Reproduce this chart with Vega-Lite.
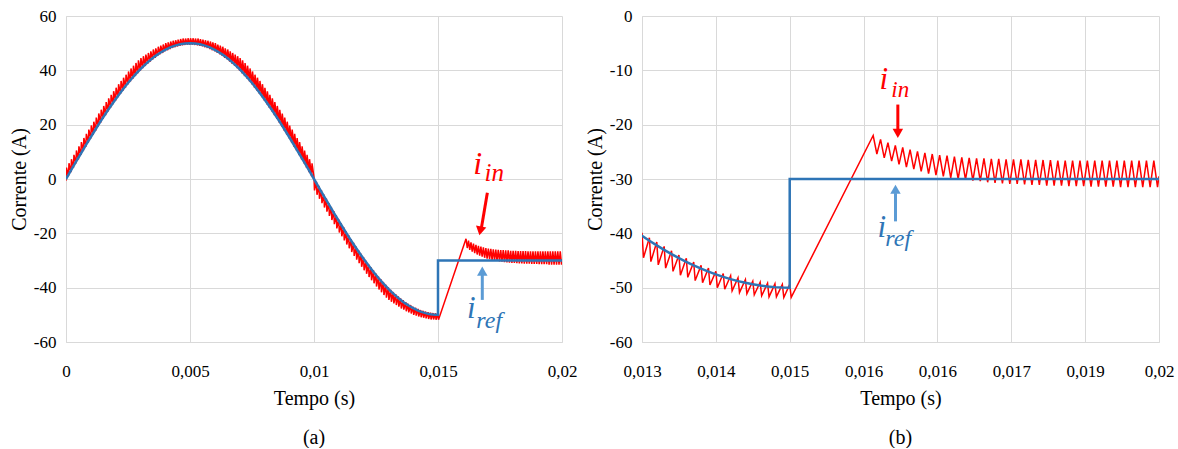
{
"$schema":"https://vega.github.io/schema/vega-lite/v6.json",
"padding":{"left":9,"top":7,"right":10,"bottom":0},
"config":{
 "view":{"stroke":null},
 "axis":{"domainColor":"#d9d9d9","gridColor":"#d9d9d9","gridWidth":1,"domainWidth":1,"ticks":false,"labelFont":"Liberation Serif","labelFontSize":17,"labelColor":"#000000","titleFont":"Liberation Serif","titleFontSize":20,"titleFontWeight":"normal","titleColor":"#000000","labelFlush":false,"labelOverlap":false},
 "axisX":{"labelPadding":21,"titlePadding":9},
 "axisY":{"labelPadding":10,"titlePadding":4},
 "title":{"font":"Liberation Serif","fontSize":20,"fontWeight":"normal","color":"#000000","orient":"bottom","anchor":"middle","offset":20}
},
"datasets":{
"iref":[{"t":0,"v":0},{"t":0.0002,"v":3.14},{"t":0.0004,"v":6.27},{"t":0.0006,"v":9.37},{"t":0.0008,"v":12.43},{"t":0.001,"v":15.45},{"t":0.0012,"v":18.41},{"t":0.0014,"v":21.29},{"t":0.0016,"v":24.09},{"t":0.0018,"v":26.79},{"t":0.002,"v":29.39},{"t":0.0022,"v":31.87},{"t":0.0024,"v":34.23},{"t":0.0026,"v":36.45},{"t":0.0028,"v":38.53},{"t":0.003,"v":40.45},{"t":0.0032,"v":42.22},{"t":0.0034,"v":43.82},{"t":0.0036,"v":45.24},{"t":0.0038,"v":46.49},{"t":0.004,"v":47.55},{"t":0.0042,"v":48.43},{"t":0.0044,"v":49.11},{"t":0.0046,"v":49.61},{"t":0.0048,"v":49.9},{"t":0.005,"v":50},{"t":0.0052,"v":49.9},{"t":0.0054,"v":49.61},{"t":0.0056,"v":49.11},{"t":0.0058,"v":48.43},{"t":0.006,"v":47.55},{"t":0.0062,"v":46.49},{"t":0.0064,"v":45.24},{"t":0.0066,"v":43.82},{"t":0.0068,"v":42.22},{"t":0.007,"v":40.45},{"t":0.0072,"v":38.53},{"t":0.0074,"v":36.45},{"t":0.0076,"v":34.23},{"t":0.0078,"v":31.87},{"t":0.008,"v":29.39},{"t":0.0082,"v":26.79},{"t":0.0084,"v":24.09},{"t":0.0086,"v":21.29},{"t":0.0088,"v":18.41},{"t":0.009,"v":15.45},{"t":0.0092,"v":12.43},{"t":0.0094,"v":9.37},{"t":0.0096,"v":6.27},{"t":0.0098,"v":3.14},{"t":0.01,"v":0},{"t":0.0102,"v":-3.14},{"t":0.0104,"v":-6.27},{"t":0.0106,"v":-9.37},{"t":0.0108,"v":-12.43},{"t":0.011,"v":-15.45},{"t":0.0112,"v":-18.41},{"t":0.0114,"v":-21.29},{"t":0.0116,"v":-24.09},{"t":0.0118,"v":-26.79},{"t":0.012,"v":-29.39},{"t":0.0122,"v":-31.87},{"t":0.0124,"v":-34.23},{"t":0.0126,"v":-36.45},{"t":0.0128,"v":-38.53},{"t":0.013,"v":-40.45},{"t":0.0131,"v":-41.35},{"t":0.0132,"v":-42.22},{"t":0.0133,"v":-43.04},{"t":0.0134,"v":-43.82},{"t":0.0135,"v":-44.55},{"t":0.0136,"v":-45.24},{"t":0.0137,"v":-45.89},{"t":0.0138,"v":-46.49},{"t":0.0139,"v":-47.04},{"t":0.014,"v":-47.55},{"t":0.0141,"v":-48.01},{"t":0.0142,"v":-48.43},{"t":0.0143,"v":-48.8},{"t":0.0144,"v":-49.11},{"t":0.0145,"v":-49.38},{"t":0.0146,"v":-49.61},{"t":0.0147,"v":-49.78},{"t":0.0148,"v":-49.9},{"t":0.0149,"v":-49.98},{"t":0.015,"v":-50},{"t":0.015,"v":-30},{"t":0.02,"v":-30}],
"iin":[{"t":0,"v":-0.6},{"t":0.00002,"v":4.2},{"t":0.0001,"v":1.0},{"t":0.00012,"v":5.8},{"t":0.0002,"v":2.5},{"t":0.00022,"v":7.3},{"t":0.0003,"v":4.1},{"t":0.00032,"v":8.9},{"t":0.0004,"v":5.7},{"t":0.00042,"v":10.5},{"t":0.0005,"v":7.2},{"t":0.00052,"v":12.0},{"t":0.0006,"v":8.8},{"t":0.00062,"v":13.6},{"t":0.0007,"v":10.3},{"t":0.00072,"v":15.1},{"t":0.0008,"v":11.8},{"t":0.00082,"v":16.6},{"t":0.0009,"v":13.4},{"t":0.00092,"v":18.2},{"t":0.001,"v":14.9},{"t":0.00102,"v":19.7},{"t":0.0011,"v":16.3},{"t":0.00112,"v":21.1},{"t":0.0012,"v":17.8},{"t":0.00122,"v":22.6},{"t":0.0013,"v":19.3},{"t":0.00132,"v":24.1},{"t":0.0014,"v":20.7},{"t":0.00142,"v":25.5},{"t":0.0015,"v":22.1},{"t":0.00152,"v":26.9},{"t":0.0016,"v":23.5},{"t":0.00162,"v":28.3},{"t":0.0017,"v":24.9},{"t":0.00172,"v":29.7},{"t":0.0018,"v":26.2},{"t":0.00182,"v":31.0},{"t":0.0019,"v":27.5},{"t":0.00192,"v":32.3},{"t":0.002,"v":28.8},{"t":0.00202,"v":33.6},{"t":0.0021,"v":30.1},{"t":0.00212,"v":34.9},{"t":0.0022,"v":31.3},{"t":0.00222,"v":36.1},{"t":0.0023,"v":32.5},{"t":0.00232,"v":37.3},{"t":0.0024,"v":33.6},{"t":0.00242,"v":38.4},{"t":0.0025,"v":34.8},{"t":0.00252,"v":39.6},{"t":0.0026,"v":35.9},{"t":0.00262,"v":40.7},{"t":0.0027,"v":36.9},{"t":0.00272,"v":41.7},{"t":0.0028,"v":37.9},{"t":0.00282,"v":42.7},{"t":0.0029,"v":38.9},{"t":0.00292,"v":43.7},{"t":0.003,"v":39.9},{"t":0.00302,"v":44.5},{"t":0.0031,"v":40.8},{"t":0.00312,"v":45.2},{"t":0.0032,"v":41.6},{"t":0.00322,"v":45.8},{"t":0.0033,"v":42.4},{"t":0.00332,"v":46.4},{"t":0.0034,"v":43.2},{"t":0.00342,"v":47.0},{"t":0.0035,"v":44.0},{"t":0.00352,"v":47.7},{"t":0.0036,"v":44.6},{"t":0.00362,"v":48.1},{"t":0.0037,"v":45.3},{"t":0.00372,"v":48.7},{"t":0.0038,"v":45.9},{"t":0.00382,"v":49.1},{"t":0.0039,"v":46.4},{"t":0.00392,"v":49.5},{"t":0.004,"v":47.0},{"t":0.00402,"v":50.0},{"t":0.0041,"v":47.4},{"t":0.00412,"v":50.3},{"t":0.0042,"v":47.8},{"t":0.00422,"v":50.6},{"t":0.0043,"v":48.2},{"t":0.00432,"v":50.9},{"t":0.0044,"v":48.5},{"t":0.00442,"v":51.1},{"t":0.0045,"v":48.8},{"t":0.00452,"v":51.3},{"t":0.0046,"v":49.0},{"t":0.00462,"v":51.5},{"t":0.0047,"v":49.2},{"t":0.00472,"v":51.7},{"t":0.0048,"v":49.3},{"t":0.00482,"v":51.7},{"t":0.0049,"v":49.4},{"t":0.00492,"v":51.8},{"t":0.005,"v":49.4},{"t":0.00502,"v":51.8},{"t":0.0051,"v":49.4},{"t":0.00512,"v":51.8},{"t":0.0052,"v":49.3},{"t":0.00522,"v":51.7},{"t":0.0053,"v":49.2},{"t":0.00532,"v":51.7},{"t":0.0054,"v":49.0},{"t":0.00542,"v":51.5},{"t":0.0055,"v":48.8},{"t":0.00552,"v":51.3},{"t":0.0056,"v":48.5},{"t":0.00562,"v":51.1},{"t":0.0057,"v":48.2},{"t":0.00572,"v":50.9},{"t":0.0058,"v":47.8},{"t":0.00582,"v":50.6},{"t":0.0059,"v":47.4},{"t":0.00592,"v":50.3},{"t":0.006,"v":47.0},{"t":0.00602,"v":50.0},{"t":0.0061,"v":46.4},{"t":0.00612,"v":49.5},{"t":0.0062,"v":45.9},{"t":0.00622,"v":49.1},{"t":0.0063,"v":45.3},{"t":0.00632,"v":48.7},{"t":0.0064,"v":44.6},{"t":0.00642,"v":48.1},{"t":0.0065,"v":44.0},{"t":0.00652,"v":47.7},{"t":0.0066,"v":43.2},{"t":0.00662,"v":47.0},{"t":0.0067,"v":42.4},{"t":0.00672,"v":46.4},{"t":0.0068,"v":41.6},{"t":0.00682,"v":45.8},{"t":0.0069,"v":40.8},{"t":0.00692,"v":45.2},{"t":0.007,"v":39.9},{"t":0.00702,"v":44.5},{"t":0.0071,"v":38.9},{"t":0.00712,"v":43.7},{"t":0.0072,"v":37.9},{"t":0.00722,"v":42.7},{"t":0.0073,"v":36.9},{"t":0.00732,"v":41.7},{"t":0.0074,"v":35.9},{"t":0.00742,"v":40.7},{"t":0.0075,"v":34.8},{"t":0.00752,"v":39.6},{"t":0.0076,"v":33.6},{"t":0.00762,"v":38.4},{"t":0.0077,"v":32.5},{"t":0.00772,"v":37.3},{"t":0.0078,"v":31.3},{"t":0.00782,"v":36.1},{"t":0.0079,"v":30.1},{"t":0.00792,"v":34.9},{"t":0.008,"v":28.8},{"t":0.00802,"v":33.6},{"t":0.0081,"v":27.5},{"t":0.00812,"v":32.3},{"t":0.0082,"v":26.2},{"t":0.00822,"v":31.0},{"t":0.0083,"v":24.9},{"t":0.00832,"v":29.7},{"t":0.0084,"v":23.5},{"t":0.00842,"v":28.3},{"t":0.0085,"v":22.1},{"t":0.00852,"v":26.9},{"t":0.0086,"v":20.7},{"t":0.00862,"v":25.5},{"t":0.0087,"v":19.3},{"t":0.00872,"v":24.1},{"t":0.0088,"v":17.8},{"t":0.00882,"v":22.6},{"t":0.0089,"v":16.3},{"t":0.00892,"v":21.1},{"t":0.009,"v":14.9},{"t":0.00902,"v":19.7},{"t":0.0091,"v":13.4},{"t":0.00912,"v":18.2},{"t":0.0092,"v":11.8},{"t":0.00922,"v":16.6},{"t":0.0093,"v":10.3},{"t":0.00932,"v":15.1},{"t":0.0094,"v":8.8},{"t":0.00942,"v":13.6},{"t":0.0095,"v":7.2},{"t":0.00952,"v":12.0},{"t":0.0096,"v":5.7},{"t":0.00962,"v":10.5},{"t":0.0097,"v":4.1},{"t":0.00972,"v":8.9},{"t":0.0098,"v":2.5},{"t":0.00982,"v":7.3},{"t":0.0099,"v":1.0},{"t":0.00992,"v":5.8},
{"t":0.01,"v":0.6},{"t":0.01002,"v":-4.2},{"t":0.0101,"v":-1.0},{"t":0.01012,"v":-5.8},{"t":0.0102,"v":-2.5},{"t":0.01022,"v":-7.3},{"t":0.0103,"v":-4.1},{"t":0.01032,"v":-8.9},{"t":0.0104,"v":-5.7},{"t":0.01042,"v":-10.5},{"t":0.0105,"v":-7.2},{"t":0.01052,"v":-12.0},{"t":0.0106,"v":-8.8},{"t":0.01062,"v":-13.6},{"t":0.0107,"v":-10.3},{"t":0.01072,"v":-15.1},{"t":0.0108,"v":-11.8},{"t":0.01082,"v":-16.6},{"t":0.0109,"v":-13.4},{"t":0.01092,"v":-18.2},{"t":0.011,"v":-14.9},{"t":0.01102,"v":-19.7},{"t":0.0111,"v":-16.3},{"t":0.01112,"v":-21.1},{"t":0.0112,"v":-17.8},{"t":0.01122,"v":-22.6},{"t":0.0113,"v":-19.3},{"t":0.01132,"v":-24.1},{"t":0.0114,"v":-20.7},{"t":0.01142,"v":-25.5},{"t":0.0115,"v":-22.1},{"t":0.01152,"v":-26.9},{"t":0.0116,"v":-23.5},{"t":0.01162,"v":-28.3},{"t":0.0117,"v":-24.9},{"t":0.01172,"v":-29.7},{"t":0.0118,"v":-26.2},{"t":0.01182,"v":-31.0},{"t":0.0119,"v":-27.5},{"t":0.01192,"v":-32.3},{"t":0.012,"v":-28.8},{"t":0.01202,"v":-33.6},{"t":0.0121,"v":-30.1},{"t":0.01212,"v":-34.9},{"t":0.0122,"v":-31.3},{"t":0.01222,"v":-36.1},{"t":0.0123,"v":-32.5},{"t":0.01232,"v":-37.3},{"t":0.0124,"v":-33.6},{"t":0.01242,"v":-38.4},{"t":0.0125,"v":-34.8},{"t":0.01252,"v":-39.6},{"t":0.0126,"v":-35.9},{"t":0.01262,"v":-40.7},{"t":0.0127,"v":-36.9},{"t":0.01272,"v":-41.7},{"t":0.0128,"v":-37.9},{"t":0.01282,"v":-42.7},{"t":0.0129,"v":-38.9},{"t":0.01292,"v":-43.7},{"t":0.013,"v":-39.9},{"t":0.01302,"v":-44.5},{"t":0.0131,"v":-40.8},{"t":0.01312,"v":-45.2},{"t":0.0132,"v":-41.6},{"t":0.01322,"v":-45.8},{"t":0.0133,"v":-42.4},{"t":0.01332,"v":-46.4},{"t":0.0134,"v":-43.2},{"t":0.01342,"v":-47.0},{"t":0.0135,"v":-44.0},{"t":0.01352,"v":-47.7},{"t":0.0136,"v":-44.6},{"t":0.01362,"v":-48.1},{"t":0.0137,"v":-45.3},{"t":0.01372,"v":-48.7},{"t":0.0138,"v":-45.9},{"t":0.01382,"v":-49.1},{"t":0.0139,"v":-46.4},{"t":0.01392,"v":-49.5},{"t":0.014,"v":-47.0},{"t":0.01402,"v":-50.0},{"t":0.0141,"v":-47.4},{"t":0.01412,"v":-50.3},{"t":0.0142,"v":-47.8},{"t":0.01422,"v":-50.6},{"t":0.0143,"v":-48.2},{"t":0.01432,"v":-50.9},{"t":0.0144,"v":-48.5},{"t":0.01442,"v":-51.1},{"t":0.0145,"v":-48.8},{"t":0.01452,"v":-51.3},{"t":0.0146,"v":-49.0},{"t":0.01462,"v":-51.5},{"t":0.0147,"v":-49.2},{"t":0.01472,"v":-51.7},{"t":0.0148,"v":-49.3},{"t":0.01482,"v":-51.7},{"t":0.0149,"v":-49.4},{"t":0.01492,"v":-51.8},{"t":0.015,"v":-49.4},{"t":0.01502,"v":-51.8},
{"t":0.01613,"v":-22.0},{"t":0.01618,"v":-25.4},{"t":0.01623,"v":-22.7},{"t":0.01628,"v":-26.1},{"t":0.01633,"v":-23.3},{"t":0.01638,"v":-26.7},{"t":0.01643,"v":-23.8},{"t":0.01648,"v":-27.3},{"t":0.01653,"v":-24.2},{"t":0.01658,"v":-27.8},{"t":0.01663,"v":-24.6},{"t":0.01668,"v":-28.2},{"t":0.01673,"v":-24.9},{"t":0.01678,"v":-28.6},{"t":0.01683,"v":-25.2},{"t":0.01688,"v":-29.0},{"t":0.01693,"v":-25.4},{"t":0.01698,"v":-29.3},{"t":0.01703,"v":-25.6},{"t":0.01708,"v":-29.5},{"t":0.01713,"v":-25.7},{"t":0.01718,"v":-29.8},{"t":0.01723,"v":-25.9},{"t":0.01728,"v":-30.0},{"t":0.01733,"v":-26.0},{"t":0.01738,"v":-30.1},{"t":0.01743,"v":-26.1},{"t":0.01748,"v":-30.3},{"t":0.01753,"v":-26.2},{"t":0.01758,"v":-30.4},{"t":0.01763,"v":-26.2},{"t":0.01768,"v":-30.6},{"t":0.01773,"v":-26.3},{"t":0.01778,"v":-30.7},{"t":0.01783,"v":-26.3},{"t":0.01788,"v":-30.8},{"t":0.01793,"v":-26.4},{"t":0.01798,"v":-30.9},{"t":0.01803,"v":-26.4},{"t":0.01808,"v":-30.9},{"t":0.01813,"v":-26.4},{"t":0.01818,"v":-31.0},{"t":0.01823,"v":-26.5},{"t":0.01828,"v":-31.1},{"t":0.01833,"v":-26.5},{"t":0.01838,"v":-31.1},{"t":0.01843,"v":-26.5},{"t":0.01848,"v":-31.2},{"t":0.01853,"v":-26.5},{"t":0.01858,"v":-31.2},{"t":0.01863,"v":-26.6},{"t":0.01868,"v":-31.2},{"t":0.01873,"v":-26.6},{"t":0.01878,"v":-31.3},{"t":0.01883,"v":-26.6},{"t":0.01888,"v":-31.3},{"t":0.01893,"v":-26.6},{"t":0.01898,"v":-31.3},{"t":0.01903,"v":-26.6},{"t":0.01908,"v":-31.4},{"t":0.01913,"v":-26.6},{"t":0.01918,"v":-31.4},{"t":0.01923,"v":-26.6},{"t":0.01928,"v":-31.4},{"t":0.01933,"v":-26.6},{"t":0.01938,"v":-31.4},{"t":0.01943,"v":-26.6},{"t":0.01948,"v":-31.5},{"t":0.01953,"v":-26.6},{"t":0.01958,"v":-31.5},{"t":0.01963,"v":-26.6},{"t":0.01968,"v":-31.5},{"t":0.01973,"v":-26.6},{"t":0.01978,"v":-31.5},{"t":0.01983,"v":-26.6},{"t":0.01988,"v":-31.5},{"t":0.01993,"v":-26.6},{"t":0.01998,"v":-31.5},{"t":0.02,"v":-29.5}]
},
"spacing":8,
"hconcat":[
{
 "width":496,"height":326,
 "title":{"text":"(a)"},
 "encoding":{
  "x":{"field":"t","type":"quantitative","scale":{"domain":[0,0.02],"nice":false,"zero":false},"axis":{"values":[0,0.005,0.01,0.015,0.02],"labelExpr":"replace(toString(datum.value),'.',',')","title":"Tempo (s)"}},
  "y":{"field":"v","type":"quantitative","scale":{"domain":[-60,60],"nice":false},"axis":{"values":[-60,-40,-20,0,20,40,60],"labelExpr":"toString(datum.value)","title":"Corrente (A)"}}
 },
 "layer":[
  {"data":{"name":"iin"},"mark":{"type":"line","color":"#FF0000","strokeWidth":1.5,"clip":true}},
  {"data":{"name":"iref"},"mark":{"type":"line","color":"#2E75B6","strokeWidth":2.5,"clip":true}},
  {"data":{"values":[{"t":0.0166,"v":2.0,"s":"i"}]},"mark":{"type":"text","color":"#FF0000","font":"Liberation Serif","fontStyle":"italic","fontSize":32,"align":"center","baseline":"alphabetic"},"encoding":{"text":{"field":"s"}}},
  {"data":{"values":[{"t":0.01688,"v":-0.9,"s":"in"}]},"mark":{"type":"text","color":"#FF0000","font":"Liberation Serif","fontStyle":"italic","fontSize":25,"align":"left","baseline":"alphabetic"},"encoding":{"text":{"field":"s"}}},
  {"data":{"values":[{"t":0.01699,"v":-5.1,"t2":0.01675,"v2":-18.0}]},"mark":{"type":"rule","color":"#FF0000","strokeWidth":3},"encoding":{"x2":{"field":"t2"},"y2":{"field":"v2"}}},
  {"data":{"values":[{"t":0.016705,"v":-19.1}]},"mark":{"type":"point","shape":"triangle-down","filled":true,"size":110,"color":"#FF0000","opacity":1,"angle":11}},
  {"data":{"values":[{"t":0.016343,"v":-51.2,"s":"i"}]},"mark":{"type":"text","color":"#2E75B6","font":"Liberation Serif","fontStyle":"italic","fontSize":31,"align":"center","baseline":"alphabetic"},"encoding":{"text":{"field":"s"}}},
  {"data":{"values":[{"t":0.016545,"v":-54.8,"s":"ref"}]},"mark":{"type":"text","color":"#2E75B6","font":"Liberation Serif","fontStyle":"italic","fontSize":24,"align":"left","baseline":"alphabetic"},"encoding":{"text":{"field":"s"}}},
  {"data":{"values":[{"t":0.016786,"v":-44.5,"t2":0.016786,"v2":-34.5}]},"mark":{"type":"rule","color":"#5B9BD5","strokeWidth":3},"encoding":{"x2":{"field":"t2"},"y2":{"field":"v2"}}},
  {"data":{"values":[{"t":0.016786,"v":-33.9}]},"mark":{"type":"point","shape":"triangle-up","filled":true,"size":110,"color":"#5B9BD5","opacity":1}}
 ]
},
{
 "width":517,"height":326,
 "title":{"text":"(b)"},
 "encoding":{
  "x":{"field":"t","type":"quantitative","scale":{"domain":[0.013,0.02],"nice":false,"zero":false},"axis":{"values":[0.013,0.014,0.015,0.016,0.017,0.018,0.019,0.02],"labelExpr":"['0,013','0,014','0,015','0,016','0,016','0,017','0,019','0,02'][round(datum.value*1000)-13]","title":"Tempo (s)"}},
  "y":{"field":"v","type":"quantitative","scale":{"domain":[-60,0],"nice":false,"zero":false},"axis":{"values":[-60,-50,-40,-30,-20,-10,0],"labelExpr":"toString(datum.value)","title":"Corrente (A)"}}
 },
 "layer":[
  {"data":{"name":"iin"},"mark":{"type":"line","color":"#FF0000","strokeWidth":1.5,"clip":true}},
  {"data":{"name":"iref"},"mark":{"type":"line","color":"#2E75B6","strokeWidth":2.5,"clip":true}},
  {"data":{"values":[{"t":0.016274,"v":-13.4,"s":"i"}]},"mark":{"type":"text","color":"#FF0000","font":"Liberation Serif","fontStyle":"italic","fontSize":31,"align":"center","baseline":"alphabetic"},"encoding":{"text":{"field":"s"}}},
  {"data":{"values":[{"t":0.016375,"v":-14.9,"s":"in"}]},"mark":{"type":"text","color":"#FF0000","font":"Liberation Serif","fontStyle":"italic","fontSize":23,"align":"left","baseline":"alphabetic"},"encoding":{"text":{"field":"s"}}},
  {"data":{"values":[{"t":0.016464,"v":-16.3,"t2":0.016464,"v2":-21.2}]},"mark":{"type":"rule","color":"#FF0000","strokeWidth":3},"encoding":{"x2":{"field":"t2"},"y2":{"field":"v2"}}},
  {"data":{"values":[{"t":0.016464,"v":-21.6}]},"mark":{"type":"point","shape":"triangle-down","filled":true,"size":110,"color":"#FF0000","opacity":1}},
  {"data":{"values":[{"t":0.016247,"v":-40.7,"s":"i"}]},"mark":{"type":"text","color":"#2E75B6","font":"Liberation Serif","fontStyle":"italic","fontSize":31,"align":"center","baseline":"alphabetic"},"encoding":{"text":{"field":"s"}}},
  {"data":{"values":[{"t":0.016295,"v":-42.3,"s":"ref"}]},"mark":{"type":"text","color":"#2E75B6","font":"Liberation Serif","fontStyle":"italic","fontSize":24,"align":"left","baseline":"alphabetic"},"encoding":{"text":{"field":"s"}}},
  {"data":{"values":[{"t":0.016432,"v":-37.8,"t2":0.016432,"v2":-32.6}]},"mark":{"type":"rule","color":"#5B9BD5","strokeWidth":3},"encoding":{"x2":{"field":"t2"},"y2":{"field":"v2"}}},
  {"data":{"values":[{"t":0.016432,"v":-31.9}]},"mark":{"type":"point","shape":"triangle-up","filled":true,"size":110,"color":"#5B9BD5","opacity":1}}
 ]
}
]
}
